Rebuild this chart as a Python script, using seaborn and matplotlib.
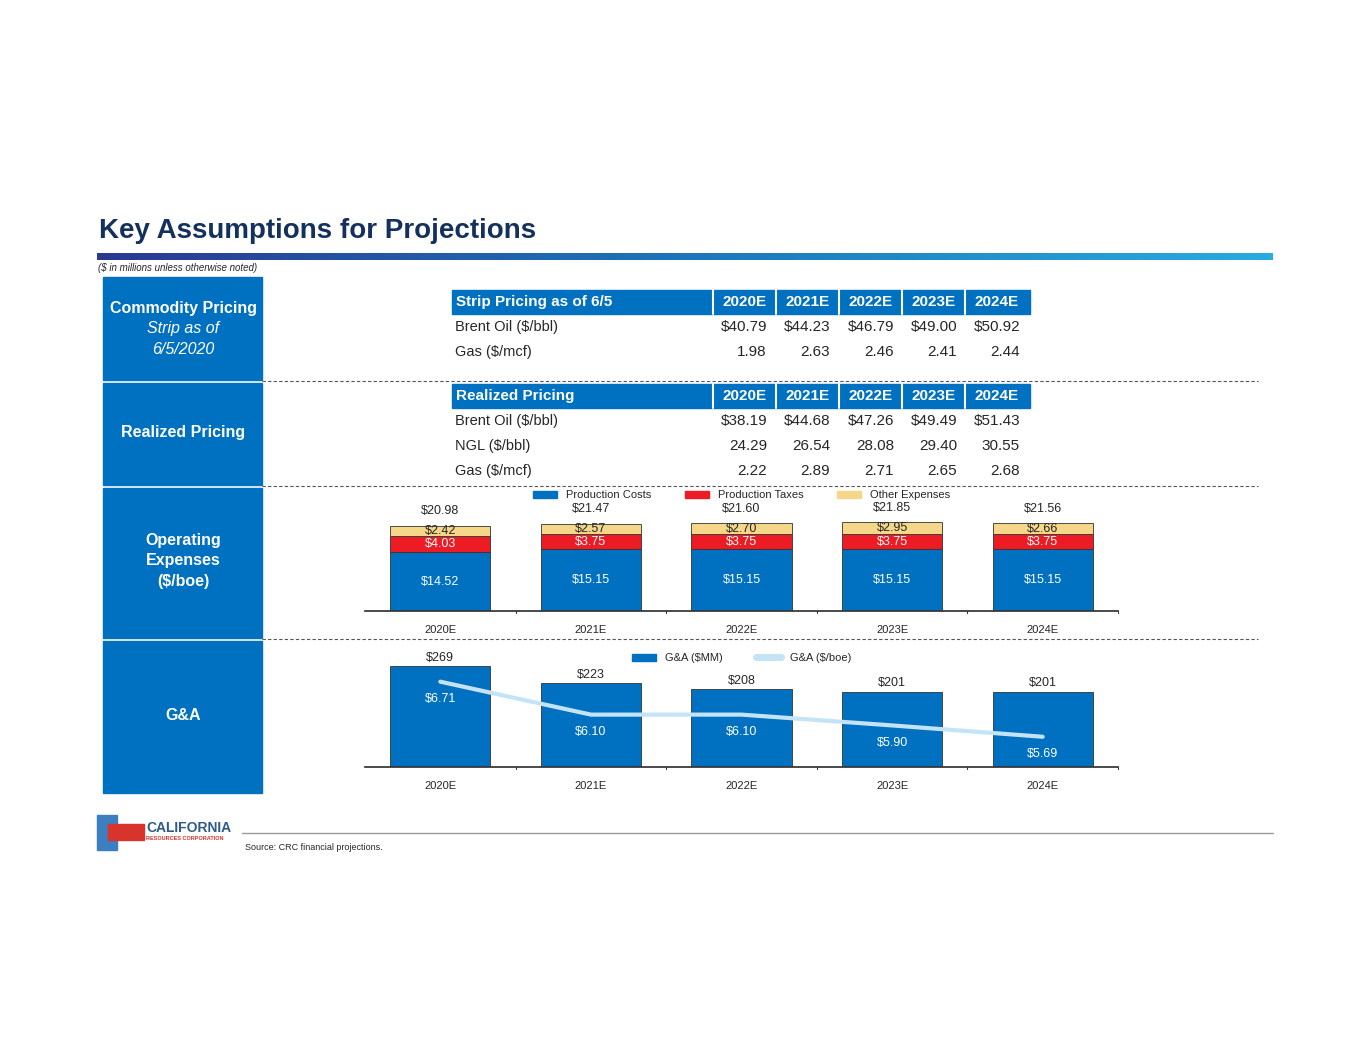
import numpy as np
import pandas as pd
import matplotlib
matplotlib.use('Agg')
import matplotlib.pyplot as plt
from matplotlib.patches import Rectangle, Patch
from matplotlib.lines import Line2D
import seaborn as sns

sns.set_theme(style='white')
plt.rcParams['font.family'] = ['Liberation Sans', 'DejaVu Sans']

years = ['2020E', '2021E', '2022E', '2023E', '2024E']
strip_rows = ['Brent Oil ($/bbl)', 'Gas ($/mcf)']
strip_vals = [['$40.79', '$44.23', '$46.79', '$49.00', '$50.92'],
              ['1.98', '2.63', '2.46', '2.41', '2.44']]
real_rows = ['Brent Oil ($/bbl)', 'NGL ($/bbl)', 'Gas ($/mcf)']
real_vals = [['$38.19', '$44.68', '$47.26', '$49.49', '$51.43'],
             ['24.29', '26.54', '28.08', '29.40', '30.55'],
             ['2.22', '2.89', '2.71', '2.65', '2.68']]
prod_costs = [14.52, 15.15, 15.15, 15.15, 15.15]
prod_taxes = [4.03, 3.75, 3.75, 3.75, 3.75]
other_exp = [2.42, 2.57, 2.70, 2.95, 2.66]
opex_total = [20.98, 21.47, 21.60, 21.85, 21.56]
ga_mm = [269, 223, 208, 201, 201]
ga_boe = [6.71, 6.10, 6.10, 5.90, 5.69]

BLUE = '#0070C0'
RED = '#ED1C24'
TAN = '#F5D78A'
LBLUE = '#C5E3F6'
NAVY = '#13315C'

W, H = 1365, 1055
fig = plt.figure(figsize=(W / 100, H / 100), dpi=100)

def fx(x): return x / W
def fy(y): return 1 - y / H

# title
fig.text(fx(99), fy(231), 'Key Assumptions for Projections', fontsize=20, fontweight='bold',
         color=NAVY, va='center', ha='left')
gax = fig.add_axes([fx(97), fy(260), fx(1273 - 97), (260 - 253) / H])
grad = np.linspace(0, 1, 256).reshape(1, -1)
cmap = matplotlib.colors.LinearSegmentedColormap.from_list('g', ['#2B3990', '#1C75BC', '#29ABE2'])
gax.imshow(grad, aspect='auto', cmap=cmap)
gax.axis('off')
fig.text(fx(98), fy(268), '($ in millions unless otherwise noted)', fontsize=7, style='italic',
         va='center', ha='left')

# left panel boxes
boxes = [(277, 380, ['Commodity Pricing', 'Strip as of', '6/5/2020']),
         (383, 485, ['Realized Pricing']),
         (488, 638, ['Operating', 'Expenses', '($/boe)']),
         (641, 793, ['G&A'])]
for top, bot, lines in boxes:
    fig.patches.append(Rectangle((fx(103), fy(bot)), fx(262 - 103), (bot - top) / H,
                                 transform=fig.transFigure, color=BLUE))
    if len(lines) == 3 and lines[1] == 'Strip as of':
        fig.text(fx(183), fy(309), lines[0], color='white', fontsize=11.5, fontweight='semibold', ha='center', va='center')
        fig.text(fx(183), fy(329), lines[1], color='white', fontsize=11.5, style='italic', ha='center', va='center')
        fig.text(fx(183), fy(350), lines[2], color='white', fontsize=11.5, style='italic', ha='center', va='center')
    else:
        mid = (top + bot) / 2
        n = len(lines)
        for i, t in enumerate(lines):
            fig.text(fx(183), fy(mid + (i - (n - 1) / 2) * 20.5 - 2), t, color='white', fontsize=11.5,
                     fontweight='semibold', ha='center', va='center')

for y in [381, 486, 639]:
    fig.add_artist(Line2D([fx(262), fx(1258)], [fy(y), fy(y)], transform=fig.transFigure,
                          color='#555555', lw=0.8, ls=(0, (3, 2))))

# tables
col_r = [767, 830, 894, 957, 1020]
col_sep = [713, 776, 839, 902, 965]

def table(top, title, rows, vals):
    fig.patches.append(Rectangle((fx(452), fy(top + 24)), fx(1030 - 452), 24 / H,
                                 transform=fig.transFigure, color=BLUE))
    for s in col_sep:
        fig.add_artist(Line2D([fx(s), fx(s)], [fy(top), fy(top + 24)], transform=fig.transFigure,
                              color='white', lw=1.5))
    fig.text(fx(456), fy(top + 12), title, color='white', fontsize=11, fontweight='semibold',
             ha='left', va='center')
    for c, yr in zip(col_sep, years):
        fig.text(fx(c + 32), fy(top + 12), yr, color='white', fontsize=11, fontweight='semibold',
                 ha='center', va='center')
    for i, (r, v) in enumerate(zip(rows, vals)):
        yy = top + 37 + 25 * i
        fig.text(fx(455), fy(yy), r, fontsize=10.5, ha='left', va='center')
        for x, t in zip(col_r, v):
            fig.text(fx(x), fy(yy), t, fontsize=11, ha='right', va='center')

table(290, 'Strip Pricing as of 6/5', strip_rows, strip_vals)
table(384, 'Realized Pricing', real_rows, real_vals)

# operating expenses
df = pd.DataFrame({'year': years, 'pc': prod_costs, 'pt': prod_taxes, 'oe': other_exp})
ax = fig.add_axes([fx(365), fy(611), fx(1118 - 365), (611 - 490) / H])
sns.barplot(data=df, x='year', y='pc', color=BLUE, width=0.665, ax=ax, saturation=1)
sns.barplot(data=df, x='year', y='pt', color=RED, width=0.665, ax=ax, saturation=1,
            bottom=df['pc'])
sns.barplot(data=df, x='year', y='oe', color=TAN, width=0.665, ax=ax, saturation=1,
            bottom=df['pc'] + df['pt'])
for p in ax.patches:
    p.set_edgecolor('#333333'); p.set_linewidth(0.6)
ax.set_ylim(0, 29.8)
ax.set_xlim(-0.5, 4.5)
for i in range(5):
    ax.text(i, prod_costs[i] / 2, f'${prod_costs[i]:.2f}', color='white', fontsize=9, ha='center', va='center')
    ax.text(i, prod_costs[i] + prod_taxes[i] / 2, f'${prod_taxes[i]:.2f}', color='white', fontsize=9, ha='center', va='center')
    ax.text(i, prod_costs[i] + prod_taxes[i] + other_exp[i] / 2, f'${other_exp[i]:.2f}', fontsize=9, ha='center', va='center')
    ax.text(i, opex_total[i] + 3.6, f'${opex_total[i]:.2f}', fontsize=9, ha='center', va='center')
ax.legend(handles=[Patch(color=BLUE, label='Production Costs'), Patch(color=RED, label='Production Taxes'),
                   Patch(color=TAN, label='Other Expenses')],
          loc='upper center', bbox_to_anchor=(0.5, 1.08), ncol=3, frameon=False, fontsize=8,
          handlelength=2.2, handleheight=0.6, columnspacing=3)

def style_axis(a):
    for s in ['top', 'right', 'left']:
        a.spines[s].set_visible(False)
    a.spines['bottom'].set_color('#333333')
    a.set_yticks([])
    a.set_xlabel(''); a.set_ylabel('')
    a.tick_params(axis='x', length=0, labelsize=8, pad=10)
    for xb in [0.5, 1.5, 2.5, 3.5, 4.5]:
        a.plot([xb, xb], [0, -0.02], transform=a.get_xaxis_transform(), color='#333333', lw=0.8, clip_on=False)
    a.patch.set_alpha(0)

style_axis(ax)

# G&A
gdf = pd.DataFrame({'year': years, 'mm': ga_mm, 'boe': ga_boe})
ax2 = fig.add_axes([fx(365), fy(767), fx(1118 - 365), (767 - 650) / H])
sns.barplot(data=gdf, x='year', y='mm', color=BLUE, width=0.665, ax=ax2, saturation=1)
for p in ax2.patches:
    p.set_edgecolor('#333333'); p.set_linewidth(0.6)
ax2.set_ylim(0, 312)
ax2.set_xlim(-0.5, 4.5)
for i in range(5):
    ax2.text(i, ga_mm[i] + 22, f'${ga_mm[i]}', fontsize=9, ha='center', va='center')
style_axis(ax2)
ax3 = ax2.twinx()
sns.lineplot(x=np.arange(5), y=ga_boe, color=LBLUE, lw=3, ax=ax3)
ax3.set_ylim(5.13, 5.13 + 117 / 54)
ax3.set_xlim(-0.5, 4.5)
ax3.axis('off')
for i in range(5):
    ax3.text(i, ga_boe[i] - 0.32, f'${ga_boe[i]:.2f}', color='white', fontsize=9, ha='center', va='center')
ax3.legend(handles=[Patch(color=BLUE, label='G&A ($MM)'), Line2D([], [], color=LBLUE, lw=5, label='G&A ($/boe)')],
           loc='upper center', bbox_to_anchor=(0.5, 1.06), ncol=2, frameon=False, fontsize=8,
           handlelength=2.2, handleheight=0.6, columnspacing=3)

# footer
fig.add_artist(Line2D([fx(242), fx(1273)], [fy(833), fy(833)], transform=fig.transFigure, color='#999999', lw=1))
fig.text(fx(245), fy(848), 'Source: CRC financial projections.', fontsize=6.5, ha='left', va='center')
fig.text(fx(146), fy(828), 'CALIFORNIA', fontsize=10, fontweight='bold', color='#2E5C8A', ha='left', va='center')
fig.text(fx(146), fy(839), 'RESOURCES CORPORATION', fontsize=4, fontweight='bold', color='#D9342B', ha='left', va='center')
fig.patches.append(Rectangle((fx(97), fy(850)), fx(20), 35 / H, transform=fig.transFigure, color='#3C7FC1'))
fig.patches.append(Rectangle((fx(108), fy(840)), fx(36), 16 / H, transform=fig.transFigure, color='#D9342B'))

fig.savefig('out.png', dpi=100)
